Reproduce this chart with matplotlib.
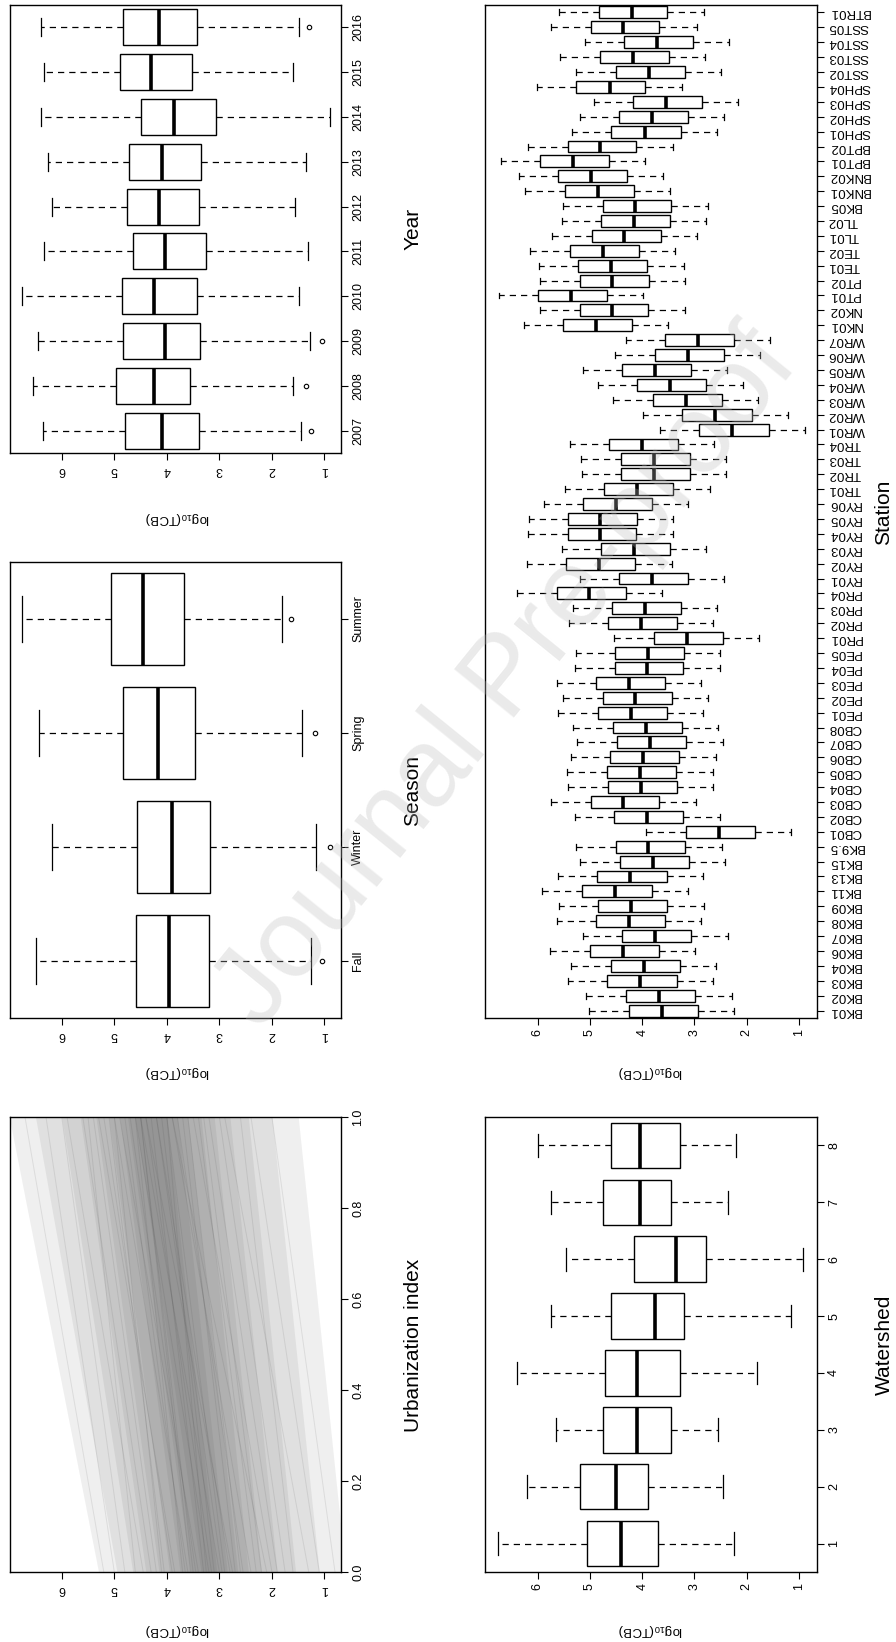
import matplotlib
matplotlib.use('Agg')
import matplotlib.pyplot as plt

plt.rcParams['font.family'] = ['Liberation Sans', 'DejaVu Sans']
plt.rcParams['mathtext.default'] = 'regular'

# ---- data (log10 TCB) ----
years = ['2007', '2008', '2009', '2010', '2011', '2012', '2013', '2014', '2015', '2016']
year_whishi = [6.36, 6.54, 6.45, 6.75, 6.34, 6.18, 6.27, 6.40, 6.33, 6.40]
year_q3 = [4.79, 4.97, 4.83, 4.85, 4.65, 4.76, 4.72, 4.50, 4.89, 4.83]
year_med = [4.10, 4.25, 4.03, 4.25, 4.03, 4.15, 4.09, 3.86, 4.30, 4.14]
year_q1 = [3.38, 3.56, 3.36, 3.42, 3.26, 3.38, 3.35, 3.06, 3.52, 3.42]
year_whislo = [1.44, 1.60, 1.28, 1.49, 1.32, 1.57, 1.35, 0.90, 1.60, 1.48]
year_out = [[1.26], [1.35], [1.04], [], [], [], [], [], [], [1.29]]

seasons = ['Fall', 'Winter', 'Spring', 'Summer']
season_whishi = [6.49, 6.18, 6.44, 6.76]
season_q3 = [4.59, 4.57, 4.84, 5.06]
season_med = [3.96, 3.91, 4.17, 4.45]
season_q1 = [3.19, 3.18, 3.46, 3.68]
season_whislo = [1.26, 1.17, 1.42, 1.81]
season_out = [[1.05], [0.90], [1.19], [1.63]]

watersheds = ['1', '2', '3', '4', '5', '6', '7', '8']
ws_whishi = [6.76, 6.20, 5.65, 6.40, 5.75, 5.45, 5.75, 6.00]
ws_q3 = [5.05, 5.20, 4.75, 4.72, 4.60, 4.15, 4.75, 4.60]
ws_med = [4.40, 4.50, 4.10, 4.10, 3.75, 3.35, 4.05, 4.05]
ws_q1 = [3.69, 3.88, 3.45, 3.28, 3.20, 2.78, 3.45, 3.28]
ws_whislo = [2.25, 2.45, 2.55, 1.80, 1.15, 0.92, 2.35, 2.20]

stations = ['BK01', 'BK02', 'BK03', 'BK04', 'BK06', 'BK07', 'BK08', 'BK09', 'BK11', 'BK13',
            'BK15', 'BK9.5', 'CB01', 'CB02', 'CB03', 'CB04', 'CB05', 'CB06', 'CB07', 'CB08',
            'PE01', 'PE02', 'PE03', 'PE04', 'PE05', 'PR01', 'PR02', 'PR03', 'PR04', 'RY01',
            'RY02', 'RY03', 'RY04', 'RY05', 'RY06', 'TR01', 'TR02', 'TR03', 'TR04', 'WR01',
            'WR02', 'WR03', 'WR04', 'WR05', 'WR06', 'WR07', 'NK01', 'NK02', 'PT01', 'PT02',
            'TE01', 'TE02', 'TL01', 'TL02', 'BK05', 'BNK01', 'BNK02', 'BPT01', 'BPT02', 'SPH01',
            'SPH02', 'SPH03', 'SPH04', 'SST02', 'SST03', 'SST04', 'SST05', 'BTR01']
st_whishi = [5.02, 5.07, 5.43, 5.36, 5.76, 5.14, 5.64, 5.60, 5.91, 5.62,
             5.19, 5.26, 3.92, 5.29, 5.75, 5.42, 5.44, 5.37, 5.24, 5.32,
             5.61, 5.52, 5.64, 5.29, 5.27, 4.54, 5.41, 5.33, 6.39, 5.20,
             6.20, 5.54, 6.19, 6.17, 5.89, 5.48, 5.16, 5.17, 5.39, 3.66,
             3.99, 4.55, 4.85, 5.14, 4.52, 4.32, 6.27, 5.96, 6.75, 5.96,
             5.98, 6.14, 5.73, 5.54, 5.52, 6.24, 6.36, 6.71, 6.19, 5.34,
             5.20, 4.92, 6.01, 5.27, 5.57, 5.10, 5.75, 5.59]
st_q3 = [4.26, 4.31, 4.67, 4.60, 5.00, 4.38, 4.89, 4.84, 5.15, 4.86,
         4.43, 4.51, 3.16, 4.54, 4.99, 4.66, 4.68, 4.61, 4.48, 4.56,
         4.85, 4.76, 4.89, 4.53, 4.52, 3.78, 4.66, 4.57, 5.64, 4.45,
         5.45, 4.78, 5.43, 5.43, 5.13, 4.73, 4.40, 4.41, 4.64, 2.91,
         3.23, 3.80, 4.10, 4.39, 3.76, 3.57, 5.52, 5.20, 6.00, 5.20,
         5.22, 5.38, 4.97, 4.78, 4.76, 5.48, 5.61, 5.96, 5.43, 4.59,
         4.44, 4.17, 5.26, 4.51, 4.81, 4.35, 4.99, 4.83]
st_med = [3.63, 3.68, 4.04, 3.97, 4.37, 3.75, 4.26, 4.21, 4.52, 4.23,
          3.80, 3.88, 2.53, 3.91, 4.36, 4.03, 4.05, 3.98, 3.85, 3.93,
          4.22, 4.13, 4.25, 3.90, 3.89, 3.15, 4.03, 3.95, 5.01, 3.82,
          4.82, 4.15, 4.80, 4.80, 4.51, 4.10, 3.78, 3.78, 4.01, 2.28,
          2.60, 3.16, 3.47, 3.76, 3.13, 2.94, 4.89, 4.57, 5.37, 4.57,
          4.59, 4.75, 4.34, 4.15, 4.14, 4.85, 4.98, 5.33, 4.80, 3.95,
          3.81, 3.54, 4.62, 3.87, 4.18, 3.72, 4.36, 4.20]
st_q1 = [2.94, 2.99, 3.34, 3.27, 3.67, 3.06, 3.56, 3.52, 3.82, 3.53,
         3.11, 3.18, 1.84, 3.22, 3.67, 3.33, 3.35, 3.29, 3.16, 3.23,
         3.52, 3.43, 3.56, 3.21, 3.20, 2.46, 3.34, 3.25, 4.32, 3.13,
         4.13, 3.46, 4.11, 4.10, 3.81, 3.41, 3.08, 3.09, 3.31, 1.58,
         1.90, 2.47, 2.78, 3.07, 2.44, 2.25, 4.20, 3.88, 4.68, 3.87,
         3.90, 4.06, 3.65, 3.46, 3.45, 4.16, 4.29, 4.63, 4.11, 3.26,
         3.12, 2.85, 3.94, 3.18, 3.48, 3.02, 3.67, 3.52]
st_whislo = [2.24, 2.29, 2.65, 2.58, 2.99, 2.36, 2.87, 2.82, 3.13, 2.84,
             2.41, 2.48, 1.15, 2.52, 2.97, 2.64, 2.65, 2.58, 2.46, 2.55,
             2.83, 2.74, 2.88, 2.52, 2.51, 1.76, 2.64, 2.57, 3.62, 2.43,
             3.43, 2.77, 3.42, 3.41, 3.12, 2.71, 2.39, 2.39, 2.62, 0.89,
             1.21, 1.78, 2.08, 2.38, 1.75, 1.55, 3.50, 3.18, 3.99, 3.18,
             3.20, 3.37, 2.95, 2.77, 2.75, 3.47, 3.60, 3.94, 3.42, 2.57,
             2.43, 2.16, 3.24, 2.49, 2.79, 2.34, 2.96, 2.82]

# urbanization panel: spread of posterior lines, value at urban index 0 and 1
urb_ticks = [0.0, 0.2, 0.4, 0.6, 0.8, 1.0]
band_lo0 = [0.60, 1.10, 1.55, 1.90, 2.20, 2.45, 2.65, 2.85, 3.05]
band_hi0 = [5.30, 4.95, 4.65, 4.40, 4.15, 3.95, 3.75, 3.55, 3.35]
band_lo1 = [1.50, 2.00, 2.45, 2.80, 3.10, 3.35, 3.60, 3.80, 4.00]
band_hi1 = [7.00, 6.50, 6.00, 5.65, 5.35, 5.10, 4.90, 4.75, 4.60]
line_v0 = [1.1, 1.6, 2.0, 2.2, 2.4, 2.6, 2.8, 2.9, 3.0, 3.1, 3.2, 3.3, 3.4, 3.5, 3.6,
           3.7, 3.9, 4.1, 4.3, 4.6, 5.0, 1.9, 2.7, 3.15, 3.55, 4.2, 1.3, 1.75, 2.3,
           2.55, 2.75, 2.95, 3.25, 3.45, 3.65, 3.85, 4.05, 4.45, 4.8, 5.2, 0.8, 2.1]
line_v1 = [2.4, 2.6, 3.5, 3.3, 3.9, 3.6, 4.2, 4.0, 4.5, 4.1, 4.6, 4.3, 4.9, 4.5, 5.0,
           4.6, 5.2, 5.0, 5.6, 5.5, 6.3, 3.2, 3.7, 4.4, 4.5, 5.4, 2.9, 3.0, 3.4,
           3.8, 4.4, 4.2, 4.0, 4.7, 4.8, 5.3, 5.1, 5.9, 6.0, 6.7, 2.0, 3.9]

W, H = 896, 1642
fig = plt.figure(figsize=(W / 100, H / 100), dpi=100)


def axes_px(x0, y0, x1, y1):
    return fig.add_axes([x0 / W, 1 - y1 / H, (x1 - x0) / W, (y1 - y0) / H])


def style(ax, xlim, cats, labels, cat_rot, val_rot, fs_cat=9):
    ax.set_xlim(*xlim)
    ax.set_xticks([6, 5, 4, 3, 2, 1])
    ax.set_xticklabels(['6', '5', '4', '3', '2', '1'], rotation=val_rot, fontsize=9)
    ax.yaxis.tick_right()
    ax.set_yticks(cats)
    ax.set_yticklabels(labels, rotation=cat_rot, fontsize=fs_cat, va='center')
    ax.tick_params(direction='out', length=5, width=0.8, pad=3)
    for s in ax.spines.values():
        s.set_linewidth(1.0)


def boxes(ax, whishi, q3, med, q1, whislo, out=None, capw=0.4):
    stats = []
    for i in range(len(med)):
        stats.append(dict(med=med[i], q1=q1[i], q3=q3[i], whislo=whislo[i], whishi=whishi[i],
                          fliers=out[i] if out else []))
    ax.bxp(stats, positions=range(1, len(med) + 1), widths=0.8, vert=False,
           patch_artist=True, capwidths=capw,
           boxprops=dict(facecolor='white', edgecolor='black', linewidth=1.0),
           medianprops=dict(color='black', linewidth=2.6, solid_capstyle='butt'),
           whiskerprops=dict(color='black', linewidth=0.9, linestyle=(0, (5, 4))),
           capprops=dict(color='black', linewidth=0.9),
           flierprops=dict(marker='o', markersize=3.2, markerfacecolor='none',
                           markeredgecolor='black', markeredgewidth=0.8))


# Year
ax = axes_px(10, 5, 341, 453)
boxes(ax, year_whishi, year_q3, year_med, year_q1, year_whislo, year_out)
ax.set_ylim(0.5, 10.5)
style(ax, (6.985, 0.686), range(1, 11), years, 90, 180)

# Season
ax = axes_px(10, 562, 341, 1018)
boxes(ax, season_whishi, season_q3, season_med, season_q1, season_whislo, season_out)
ax.set_ylim(0.5, 4.5)
style(ax, (6.985, 0.686), range(1, 5), seasons, 90, 180)

# Urbanization index
ax = axes_px(10, 1117, 341, 1572)
for i in range(len(band_lo0)):
    ax.fill_betweenx([0, 1], [band_lo0[i], band_lo1[i]], [band_hi0[i], band_hi1[i]],
                     color='#3a3a3a', alpha=0.08, linewidth=0)
for a, b in zip(line_v0, line_v1):
    ax.plot([a, b], [0, 1], color='#333333', alpha=0.10, linewidth=0.7)
ax.set_ylim(0, 1)
style(ax, (6.985, 0.686), urb_ticks, ['0.0', '0.2', '0.4', '0.6', '0.8', '1.0'], 90, 180)

# Station
ax = axes_px(485, 5, 817, 1018)
boxes(ax, st_whishi, st_q3, st_med, st_q1, st_whislo)
ax.set_ylim(0.5, 68.5)
style(ax, (7.01, 0.654), range(1, 69), stations, 180, 90, fs_cat=9.5)

# Watershed
ax = axes_px(485, 1117, 817, 1572)
boxes(ax, ws_whishi, ws_q3, ws_med, ws_q1, ws_whislo)
ax.set_ylim(0.5, 8.5)
style(ax, (7.01, 0.654), range(1, 9), watersheds, 90, 90)

# axis titles
lab = r'log$_{10}$(TCB)'
for x, y in [(178, 518), (178, 1072), (178, 1630), (651, 1072), (651, 1630)]:
    fig.text(x / W, 1 - y / H, lab, fontsize=9.5, rotation=180, ha='center', va='center')
for x, y, t in [(413, 229, 'Year'), (413, 790, 'Season'), (413, 1345, 'Urbanization index'),
                (884, 512, 'Station'), (884, 1345, 'Watershed')]:
    fig.text(x / W, 1 - y / H, t, fontsize=15, rotation=90, ha='center', va='center')

# watermark
fig.text(508 / W, 1 - 680 / H, 'Journal Pre-proof', fontsize=80, rotation=51,
         color='#bbbbbb', alpha=0.3, ha='center', va='center', zorder=10)

fig.savefig('out.png', dpi=100)
